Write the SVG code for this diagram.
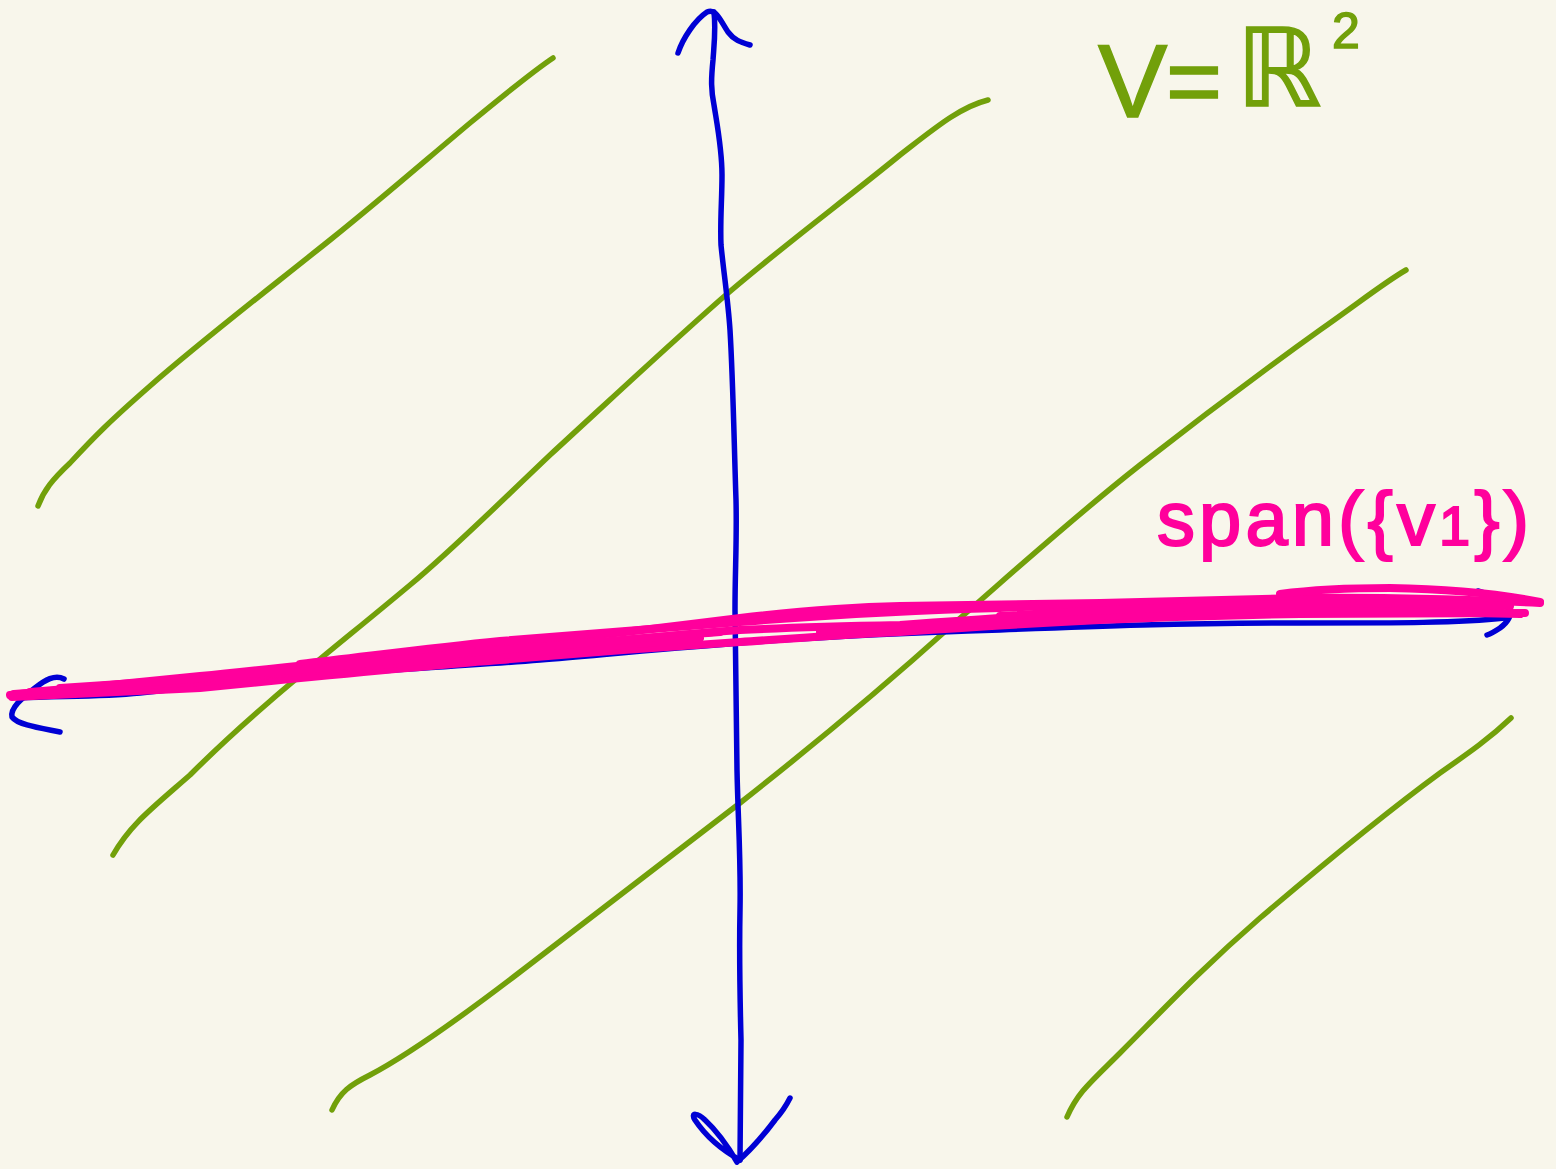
<svg xmlns="http://www.w3.org/2000/svg" width="1556" height="1169" viewBox="0 0 1556 1169">
<style>
.g{fill:none;stroke:#72a00a;stroke-width:5.5;stroke-linecap:round;stroke-linejoin:round}
.b{fill:none;stroke:#0000d4;stroke-width:5.5;stroke-linecap:round;stroke-linejoin:round}
.p{fill:none;stroke:#ff009c;stroke-width:8;stroke-linecap:round;stroke-linejoin:round}
.tg{fill:#72a00a;stroke:#72a00a;stroke-width:1.5;font-family:"Liberation Sans","DejaVu Sans",sans-serif}
.tp{fill:#ff009c;stroke:#ff009c;stroke-width:2;font-family:"Liberation Sans","DejaVu Sans",sans-serif}
</style>
<rect width="1556" height="1169" fill="#f8f6eb"/>
<g id="green-lines">
<path class="g" d="M553,58 C535,70 510,90 470,123 C420,165 380,200 330,240 C260,296 200,342 150,386 C110,421 95,436 70,463 C52,480 44,490 38,506"/>
<path class="g" d="M988,100 C960,107 935,128 900,155 C840,204 780,248 720,300 C660,353 610,400 550,455 C490,512 450,552 410,585 C330,652 260,705 190,775 C150,810 130,825 113,855"/>
<path class="g" d="M1406,270 C1385,282 1360,302 1320,330 C1260,373 1200,418 1140,465 C1070,520 1010,575 950,627 C880,690 820,740 740,803 C660,865 590,918 520,972 C460,1018 410,1054 370,1075 C350,1085 340,1092 332,1110"/>
<path class="g" d="M1511,718 C1490,738 1470,752 1440,773 C1380,817 1320,867 1260,918 C1200,970 1160,1013 1120,1053 C1090,1083 1078,1092 1067,1117"/>
</g>
<g id="axes">
<path id="y-axis" class="b" d="M714,12 C716,30 714,45 713,60 C711,80 711,90 714,105 C718,130 722,150 722,175 C722,200 720,220 721,245 C724,275 728,300 730,330 C733,380 734,440 736,500 C737,540 735,570 735,610 C736,680 737,730 737,770 C738,820 741,860 740,910 C739,960 740,1000 741,1040 C741,1080 740,1120 740,1160"/>
<path class="b" d="M678,53 C683,38 695,20 707,12 C716,8 720,20 728,32 C734,40 740,42 750,45"/>
<path class="b" d="M740,1160 C722,1150 705,1135 695,1120 C690,1112 698,1113 705,1120 C718,1132 730,1150 737,1162 C745,1155 760,1140 775,1120 C782,1112 786,1106 790,1098"/>
<path id="x-axis" class="b" d="M20,698 C60,696 100,697 140,693 C200,686 260,679 330,674 C420,668 480,665 540,660 C600,655 650,650 740,643 C820,637 900,633 1000,630 C1100,626 1180,623 1300,623 C1400,623 1460,623 1505,618"/>
<path class="b" d="M64,679 C55,674 45,680 35,688 C22,698 10,708 12,717 C18,725 40,728 60,732"/>
<path class="b" d="M1478,591 C1490,594 1500,600 1508,607 C1514,613 1508,622 1500,628 C1494,632 1490,634 1487,635"/>
</g>
<g id="span-scribble">
<path class="p" d="M10,695 C80,688 140,682 200,676 C300,666 400,654 500,645 C580,638 660,628 740,618 C800,611 850,607 900,606 C970,605 1040,604 1100,603 C1170,601 1240,599 1300,598 C1400,597 1480,600 1540,603"/>
<path class="p" d="M12,697 C80,694 140,691 200,688 C300,678 400,668 500,660 C580,653 660,647 740,642 C800,638 850,634 900,632 C970,627 1040,623 1100,620 C1170,617 1240,615 1300,614 C1400,613 1470,613 1525,613"/>
<path class="p" d="M14,694 C80,689 140,685 200,682 C300,672 400,661 500,652 C580,644 660,636 740,630 C800,627 850,626 900,625 C970,620 1040,615 1100,612 C1170,609 1240,607 1300,607 C1400,606 1460,607 1500,608"/>
<path class="p" d="M300,664 C370,656 430,648 500,641 C580,634 660,628 740,622 C830,615 920,610 1000,608 C1100,604 1200,601 1300,600 C1370,599 1420,599 1460,600"/>
<path class="p" d="M820,632 C920,626 1010,621 1100,618 C1200,615 1300,612 1400,612 C1450,612 1490,613 1520,614"/>
<path class="p" d="M1280,594 C1310,590 1350,588 1390,588 C1450,589 1500,594 1540,602"/>
<path class="p" d="M60,688 C140,682 220,677 300,672 C370,666 430,660 500,655 C570,650 640,644 700,638"/>
<path class="p" d="M950,626 C1030,619 1110,615 1200,612 C1300,610 1400,609 1500,611"/>
<path class="p" d="M30,692 C120,684 220,676 320,668 C400,660 460,652 540,647 C600,642 650,637 720,632"/>
<path class="p" d="M1000,616 C1100,610 1200,606 1300,604 C1400,603 1460,604 1510,606"/>
</g>
<g id="labels">
<text class="tg" x="1098" y="117" font-size="104">V</text>
<text class="tg" x="1166" y="114" font-size="96">=</text>
<text class="tg" x="1236" y="106" font-size="108" font-family="DejaVu Sans, sans-serif">ℝ</text>
<text class="tg" x="1332" y="48" font-size="50">2</text>
<text class="tp" x="1157" y="545" font-size="76" textLength="372" lengthAdjust="spacing">span({v<tspan font-size="56">1</tspan><tspan>})</tspan></text>
</g>
</svg>
